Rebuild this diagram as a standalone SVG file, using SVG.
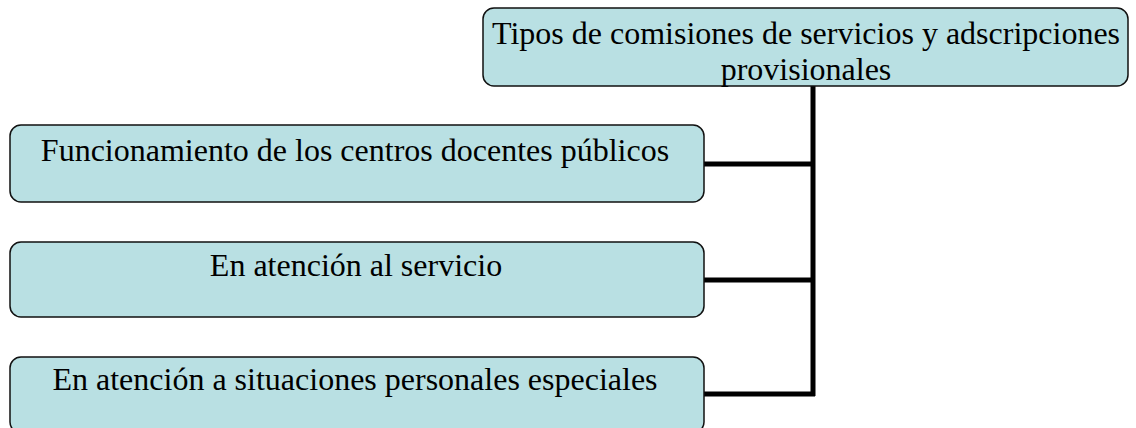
<svg xmlns="http://www.w3.org/2000/svg" width="1136" height="428" viewBox="0 0 1136 428">
<style>
.box{fill:#b9e0e3;stroke:#111;stroke-width:1.5}
.t{font-family:"Liberation Serif","Times New Roman",serif;font-size:32px;fill:#000;text-anchor:middle}
.c{fill:none;stroke:#000;stroke-width:5}
</style>
<rect width="1136" height="428" fill="#fff"/>
<g id="connectors">
<path class="c" d="M813 86 V396"/>
<path class="c" d="M704 164 H815"/>
<path class="c" d="M704 280 H815"/>
<path class="c" d="M704 394 H815"/>
</g>
<g id="root">
<rect class="box" x="483" y="8" width="645" height="78" rx="11"/>
<text class="t" x="806" y="44">Tipos de comisiones de servicios y adscripciones</text>
<text class="t" x="806" y="80">provisionales</text>
</g>
<g id="n1">
<rect class="box" x="10" y="125" width="694" height="77" rx="11"/>
<text class="t" x="355" y="161">Funcionamiento de los centros docentes públicos</text>
</g>
<g id="n2">
<rect class="box" x="10" y="242" width="694" height="75" rx="11"/>
<text class="t" x="356" y="276">En atención al servicio</text>
</g>
<g id="n3">
<rect class="box" x="10" y="357" width="694" height="76" rx="11"/>
<text class="t" x="355" y="390">En atención a situaciones personales especiales</text>
</g>
</svg>
